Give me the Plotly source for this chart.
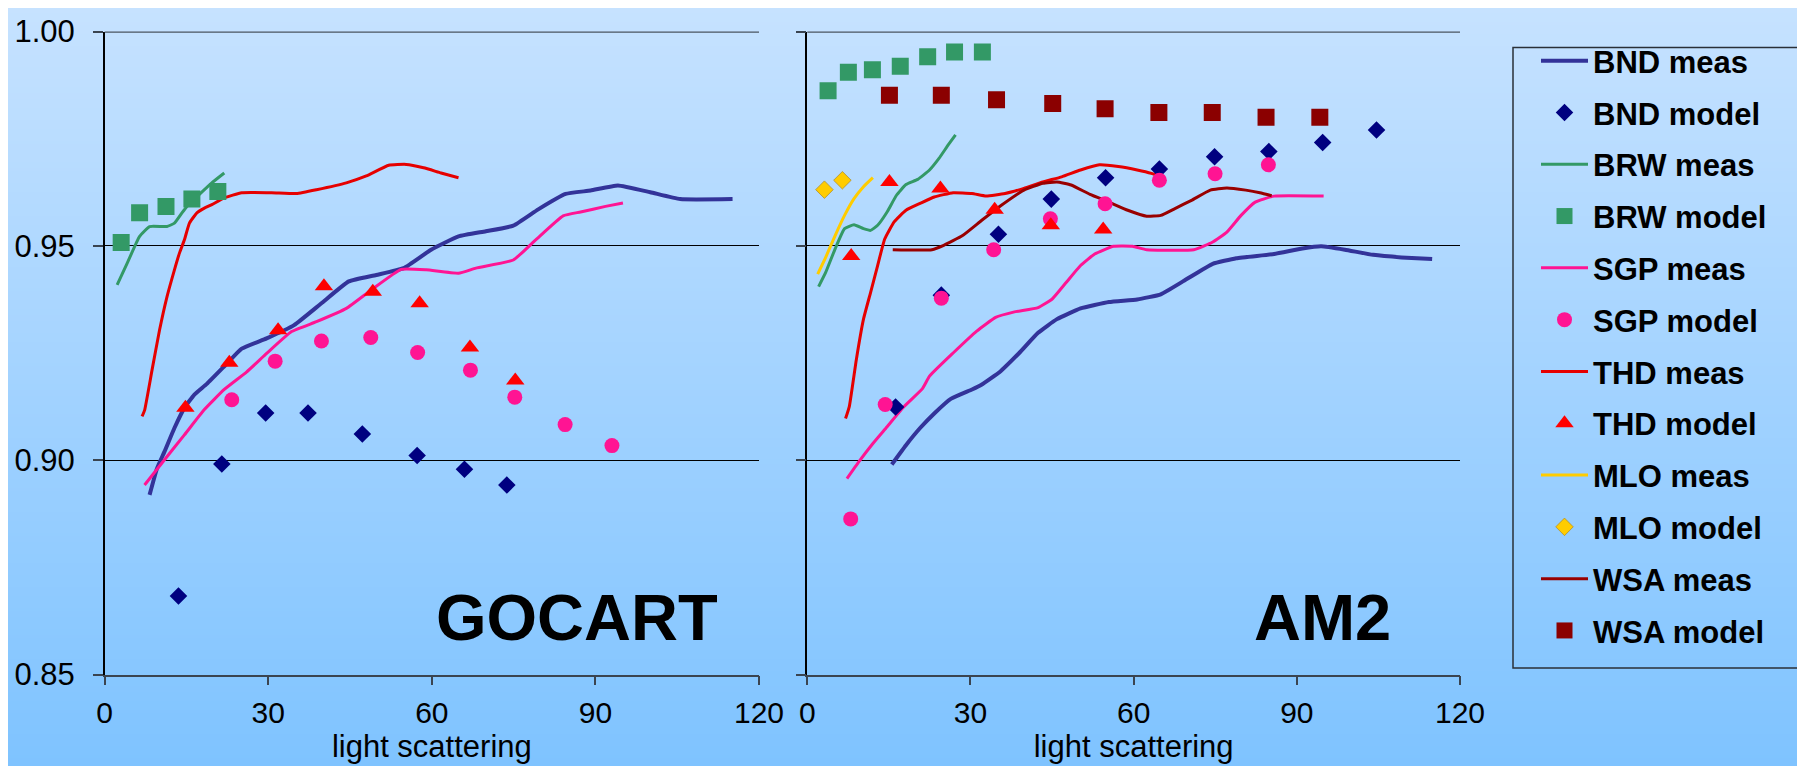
import zlib, struct, base64
import plotly.graph_objects as go

# ---------------- data ----------------
# GOCART panel (left)
g_bnd_meas_x = [8.23, 9.60, 10.97, 12.79, 14.62, 16.45, 18.73, 22.39, 25.13, 29.70, 34.73, 39.75, 44.78, 49.81, 54.83, 59.86, 64.89, 69.91, 74.94, 79.51, 84.53, 89.11, 94.13, 100.07, 105.55, 115.15]
g_bnd_meas_y = [0.8919, 0.8981, 0.9020, 0.9075, 0.9122, 0.9153, 0.9178, 0.9225, 0.9260, 0.9284, 0.9315, 0.9366, 0.9417, 0.9432, 0.9448, 0.9491, 0.9522, 0.9534, 0.9547, 0.9585, 0.9621, 0.9629, 0.9641, 0.9625, 0.9609, 0.9609]
g_bnd_model_x = [13.53, 21.48, 29.52, 37.29, 47.25, 57.30, 65.98, 73.75]
g_bnd_model_y = [0.8683, 0.8991, 0.9110, 0.9110, 0.9061, 0.9011, 0.8979, 0.8942]
g_brw_meas_x = [2.28, 4.11, 5.76, 6.40, 8.23, 11.42, 12.79, 14.17, 15.08, 17.36, 19.65, 21.93]
g_brw_meas_y = [0.9409, 0.9459, 0.9506, 0.9522, 0.9545, 0.9545, 0.9553, 0.9577, 0.9592, 0.9620, 0.9647, 0.9670]
g_brw_model_x = [3.02, 6.40, 11.24, 15.99, 20.75]
g_brw_model_y = [0.9508, 0.9577, 0.9592, 0.9609, 0.9627]
g_sgp_meas_x = [7.31, 10.97, 14.62, 18.28, 21.93, 26.05, 29.70, 34.27, 38.84, 44.32, 48.89, 54.38, 58.95, 64.89, 68.09, 74.94, 79.05, 84.08, 87.28, 91.85, 95.05]
g_sgp_meas_y = [0.8942, 0.9001, 0.9059, 0.9118, 0.9165, 0.9206, 0.9249, 0.9300, 0.9323, 0.9354, 0.9397, 0.9445, 0.9444, 0.9436, 0.9448, 0.9467, 0.9514, 0.9570, 0.9579, 0.9592, 0.9600]
g_sgp_model_x = [23.30, 31.26, 39.75, 48.80, 57.39, 67.08, 75.21, 84.44, 93.03]
g_sgp_model_y = [0.9141, 0.9231, 0.9278, 0.9286, 0.9251, 0.9210, 0.9147, 0.9083, 0.9034]
g_thd_meas_x = [6.85, 7.31, 8.68, 10.05, 11.42, 12.79, 13.71, 14.62, 15.54, 16.91, 18.28, 19.65, 21.93, 25.13, 30.62, 35.19, 38.84, 44.32, 47.98, 52.09, 55.29, 58.49, 61.69, 64.89]
g_thd_meas_y = [0.9102, 0.9116, 0.9210, 0.9303, 0.9381, 0.9444, 0.9483, 0.9514, 0.9553, 0.9577, 0.9588, 0.9596, 0.9612, 0.9624, 0.9624, 0.9622, 0.9631, 0.9647, 0.9663, 0.9688, 0.9690, 0.9682, 0.9670, 0.9659]
g_thd_model_x = [14.80, 22.85, 31.80, 40.21, 49.17, 57.76, 66.99, 75.30]
g_thd_model_y = [0.9122, 0.9227, 0.9303, 0.9406, 0.9393, 0.9366, 0.9263, 0.9186]

# AM2 panel (right)
a_bnd_meas_x = [15.53, 18.14, 20.74, 23.34, 26.38, 30.28, 32.02, 35.49, 38.96, 42.43, 45.90, 50.24, 55.45, 60.65, 64.99, 69.33, 74.54, 78.88, 85.82, 91.02, 94.49, 98.83, 104.04, 109.24, 114.88]
a_bnd_meas_y = [0.8990, 0.9035, 0.9075, 0.9109, 0.9143, 0.9165, 0.9176, 0.9207, 0.9250, 0.9297, 0.9329, 0.9354, 0.9369, 0.9375, 0.9387, 0.9419, 0.9458, 0.9471, 0.9481, 0.9494, 0.9499, 0.9491, 0.9479, 0.9473, 0.9469]
a_bnd_model_x = [16.23, 24.64, 35.14, 44.86, 54.84, 64.73, 74.88, 84.86, 94.75, 104.65]
a_bnd_model_y = [0.9124, 0.9385, 0.9527, 0.9609, 0.9659, 0.9679, 0.9708, 0.9720, 0.9741, 0.9770]
a_brw_meas_x = [2.08, 3.38, 5.12, 6.85, 8.59, 10.33, 11.63, 12.93, 14.67, 16.40, 18.14, 20.30, 22.47, 24.21, 25.94, 27.25]
a_brw_meas_y = [0.9405, 0.9438, 0.9493, 0.9540, 0.9549, 0.9540, 0.9536, 0.9548, 0.9579, 0.9618, 0.9643, 0.9655, 0.9677, 0.9704, 0.9736, 0.9759]
a_brw_model_x = [3.82, 7.55, 11.97, 17.09, 22.13, 27.07, 32.19]
a_brw_model_y = [0.9862, 0.9905, 0.9911, 0.9919, 0.9941, 0.9952, 0.9952]
a_sgp_meas_x = [7.29, 9.46, 12.06, 14.67, 17.70, 21.17, 22.47, 26.81, 31.15, 34.62, 38.09, 42.43, 45.03, 47.63, 50.24, 52.84, 56.31, 59.78, 62.39, 71.07, 74.54, 77.14, 79.75, 82.35, 85.82, 94.93]
a_sgp_meas_y = [0.8957, 0.8996, 0.9039, 0.9078, 0.9124, 0.9167, 0.9196, 0.9250, 0.9301, 0.9333, 0.9346, 0.9356, 0.9376, 0.9415, 0.9454, 0.9481, 0.9499, 0.9499, 0.9491, 0.9491, 0.9509, 0.9532, 0.9571, 0.9602, 0.9616, 0.9616]
a_sgp_model_x = [7.98, 14.32, 24.64, 34.27, 44.69, 54.75, 64.73, 74.97, 84.77]
a_sgp_model_y = [0.8863, 0.9130, 0.9378, 0.9491, 0.9563, 0.9598, 0.9653, 0.9668, 0.9689]
a_thd_meas_x = [7.03, 7.72, 9.02, 10.33, 11.63, 12.93, 14.23, 15.97, 18.14, 20.74, 23.34, 26.81, 30.28, 32.89, 36.36, 39.83, 43.30, 46.77, 50.24, 53.71, 57.18, 60.65, 63.26, 64.56]
a_thd_meas_y = [0.9097, 0.9125, 0.9235, 0.9329, 0.9391, 0.9454, 0.9516, 0.9556, 0.9583, 0.9599, 0.9614, 0.9624, 0.9622, 0.9616, 0.9622, 0.9634, 0.9649, 0.9661, 0.9677, 0.9689, 0.9685, 0.9677, 0.9669, 0.9663]
a_thd_model_x = [8.07, 15.10, 24.47, 34.45, 44.77, 54.40]
a_thd_model_y = [0.9476, 0.9649, 0.9634, 0.9584, 0.9548, 0.9538]
a_mlo_meas_x = [1.91, 3.38, 5.12, 6.85, 8.59, 10.33, 12.06]
a_mlo_meas_y = [0.9434, 0.9473, 0.9524, 0.9571, 0.9610, 0.9638, 0.9659]
a_mlo_model_x = [3.15, 6.45]
a_mlo_model_y = [0.9631, 0.9653]
a_wsa_meas_x = [15.71, 22.91, 25.08, 28.55, 32.02, 35.49, 39.83, 43.30, 45.90, 48.51, 51.98, 55.45, 58.92, 62.39, 64.99, 67.59, 70.63, 74.10, 77.14, 80.61, 83.21, 85.38]
a_wsa_meas_y = [0.9491, 0.9491, 0.9501, 0.9524, 0.9559, 0.9593, 0.9630, 0.9646, 0.9649, 0.9642, 0.9620, 0.9602, 0.9583, 0.9569, 0.9571, 0.9587, 0.9606, 0.9630, 0.9635, 0.9630, 0.9624, 0.9617]
a_wsa_model_x = [15.10, 24.64, 34.79, 45.12, 54.75, 64.64, 74.45, 84.34, 94.23]
a_wsa_model_y = [0.9851, 0.9851, 0.9841, 0.9832, 0.9820, 0.9811, 0.9811, 0.9800, 0.9800]

x_ticks = [0, 30, 60, 90, 120]
y_ticks = [0.85, 0.90, 0.95, 1.00]
panel_labels = ["GOCART", "AM2"]
axis_title = "light scattering"

# ---------------- styles ----------------
W, H = 1805, 766
FONT = "Liberation Sans, Arial, sans-serif"
C = {
    "BND_l": "#333399", "BND_m": "#000080",
    "BRW": "#339966",
    "SGP": "#FF1493",
    "THD": "#E60000", "THD_m": "#FF0000",
    "MLO": "#FFCC00",
    "WSA": "#990000", "WSA_m": "#8B0000",
}
LW_BND, LW = 4.0, 3.0
S_DIA, S_SQ, S_CIR, S_TRI = 13.5, 17, 15, 16

def png_gradient(top, bottom, h=256):
    raw = b""
    for i in range(h):
        t = i / (h - 1)
        c = [round(top[k] + (bottom[k] - top[k]) * t) for k in range(3)]
        raw += b"\x00" + bytes(c)
    def chunk(tag, data):
        return struct.pack(">I", len(data)) + tag + data + struct.pack(">I", zlib.crc32(tag + data) & 0xffffffff)
    png = (b"\x89PNG\r\n\x1a\n" + chunk(b"IHDR", struct.pack(">IIBBBBB", 1, h, 8, 2, 0, 0, 0))
           + chunk(b"IDAT", zlib.compress(raw)) + chunk(b"IEND", b""))
    return "data:image/png;base64," + base64.b64encode(png).decode()

fig = go.Figure()

def line(x, y, name, color, width, xa, ya, show, rank):
    fig.add_trace(go.Scatter(x=x, y=y, mode="lines", name=name, xaxis=xa, yaxis=ya,
                             line=dict(color=color, width=width, shape="spline", smoothing=0.4),
                             showlegend=show, legendgroup=name, legendrank=rank))

def pts(x, y, name, color, symbol, size, xa, ya, show, rank, outline=None):
    mk = dict(color=color, symbol=symbol, size=size)
    mk["line"] = dict(color=outline, width=0.8) if outline else dict(width=0)
    fig.add_trace(go.Scatter(x=x, y=y, mode="markers", name=name, xaxis=xa, yaxis=ya,
                             marker=mk, showlegend=show, legendgroup=name, legendrank=rank))

# left panel (no legend entries)
line(g_bnd_meas_x, g_bnd_meas_y, "BND meas", C["BND_l"], LW_BND, "x", "y", False, 1)
line(g_brw_meas_x, g_brw_meas_y, "BRW meas", C["BRW"], LW, "x", "y", False, 3)
line(g_sgp_meas_x, g_sgp_meas_y, "SGP meas", C["SGP"], LW, "x", "y", False, 5)
line(g_thd_meas_x, g_thd_meas_y, "THD meas", C["THD"], LW, "x", "y", False, 7)
pts(g_bnd_model_x, g_bnd_model_y, "BND model", C["BND_m"], "diamond", S_DIA, "x", "y", False, 2)
pts(g_brw_model_x, g_brw_model_y, "BRW model", C["BRW"], "square", S_SQ, "x", "y", False, 4)
pts(g_sgp_model_x, g_sgp_model_y, "SGP model", C["SGP"], "circle", S_CIR, "x", "y", False, 6)
pts(g_thd_model_x, g_thd_model_y, "THD model", C["THD_m"], "triangle-up", S_TRI, "x", "y", False, 8)

# right panel (legend entries)
line(a_bnd_meas_x, a_bnd_meas_y, "BND meas", C["BND_l"], LW_BND, "x2", "y2", True, 1)
line(a_brw_meas_x, a_brw_meas_y, "BRW meas", C["BRW"], LW, "x2", "y2", True, 3)
line(a_sgp_meas_x, a_sgp_meas_y, "SGP meas", C["SGP"], LW, "x2", "y2", True, 5)
line(a_thd_meas_x, a_thd_meas_y, "THD meas", C["THD"], LW, "x2", "y2", True, 7)
line(a_mlo_meas_x, a_mlo_meas_y, "MLO meas", C["MLO"], LW, "x2", "y2", True, 9)
line(a_wsa_meas_x, a_wsa_meas_y, "WSA meas", C["WSA"], LW, "x2", "y2", True, 11)
pts(a_bnd_model_x, a_bnd_model_y, "BND model", C["BND_m"], "diamond", S_DIA, "x2", "y2", True, 2)
pts(a_brw_model_x, a_brw_model_y, "BRW model", C["BRW"], "square", S_SQ, "x2", "y2", True, 4)
pts(a_sgp_model_x, a_sgp_model_y, "SGP model", C["SGP"], "circle", S_CIR, "x2", "y2", True, 6)
pts(a_thd_model_x, a_thd_model_y, "THD model", C["THD_m"], "triangle-up", S_TRI, "x2", "y2", True, 8)
pts(a_mlo_model_x, a_mlo_model_y, "MLO model", C["MLO"], "diamond", S_DIA, "x2", "y2", True, 10, outline="#B09030")
pts(a_wsa_model_x, a_wsa_model_y, "WSA model", C["WSA_m"], "square", S_SQ, "x2", "y2", True, 12)

AX_DARK = "#3A4450"
ydom = [1 - 666.5 / H, 1 - 23.5 / H]
xdom1 = [96.7 / W, 751 / W]
xdom2 = [799.3 / W, 1452 / W]

xcommon = dict(range=[0, 120], tickvals=x_ticks, ticks="outside", ticklen=9, tickcolor=AX_DARK, tickwidth=1.5,
               showline=True, linecolor=AX_DARK, linewidth=1.5, showgrid=False, zeroline=False,
               tickfont=dict(family=FONT, size=30, color="black"), automargin=False,
               ticklabelstandoff=2,
               title=dict(text=axis_title, font=dict(family=FONT, size=31, color="black"), standoff=6))
ycommon = dict(range=[0.85, 1.0], tickvals=y_ticks, tickformat=".2f", ticks="outside", ticklen=10,
               tickcolor=AX_DARK, tickwidth=1.5, showline=True, linecolor="black", linewidth=1.5,
               showgrid=True, gridcolor="black", gridwidth=1, zeroline=False, automargin=False,
               tickfont=dict(family=FONT, size=31, color="black"), ticklabelstandoff=12, domain=ydom)

fig.update_layout(
    width=W, height=H,
    margin=dict(l=0, r=0, t=0, b=0),
    paper_bgcolor="#A6D3FF", plot_bgcolor="rgba(0,0,0,0)",
    xaxis=dict(domain=xdom1, anchor="y", **xcommon),
    yaxis=dict(anchor="x", **ycommon),
    xaxis2=dict(domain=xdom2, anchor="y2", **xcommon),
    yaxis2=dict(anchor="x2", showticklabels=False, **ycommon),
    legend=dict(x=1528 / W, y=1 - 26 / H, xanchor="left", yanchor="top",
                bgcolor="rgba(0,0,0,0)", borderwidth=0, traceorder="grouped",
                tracegroupgap=8.5, itemwidth=47,
                font=dict(family=FONT, size=31, color="black", weight="bold")),
    font=dict(family=FONT),
    images=[dict(source=png_gradient((198, 226, 255), (126, 195, 255)), xref="paper", yref="paper",
                 x=0, y=1, sizex=1, sizey=1, sizing="stretch", layer="below", xanchor="left", yanchor="top")],
    shapes=[
        dict(type="line", xref="x domain", yref="y", x0=0, x1=1, y0=1.0, y1=1.0,
             line=dict(color="#4A5560", width=2.5)),
        dict(type="line", xref="x2 domain", yref="y2", x0=0, x1=1, y0=1.0, y1=1.0,
             line=dict(color="#4A5560", width=2.5)),
        dict(type="rect", xref="paper", yref="paper", x0=1505 / W, x1=1801.5 / W,
             y0=1 - 660 / H, y1=1 - 39.5 / H, line=dict(color="#2A3038", width=1.5)),
    ],
    annotations=[
        dict(text=panel_labels[0], xref="paper", yref="paper", x=712 / W, y=1 - 609 / H,
             xanchor="right", yanchor="middle", showarrow=False,
             font=dict(family=FONT, size=65, color="black", weight="bold")),
        dict(text=panel_labels[1], xref="paper", yref="paper", x=1385 / W, y=1 - 609 / H,
             xanchor="right", yanchor="middle", showarrow=False,
             font=dict(family=FONT, size=65, color="black", weight="bold")),
    ],
)

fig.write_html("out.html")
